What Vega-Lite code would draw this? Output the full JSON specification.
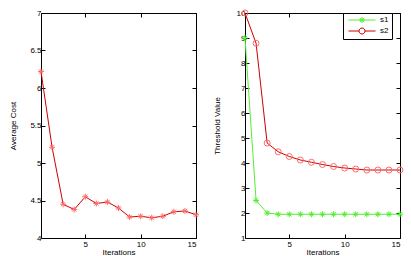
{
  "$schema": "https://vega.github.io/schema/vega-lite/v6.json",
  "padding": {"left": 8, "top": 7, "right": 12, "bottom": 0},
  "spacing": 10,
  "background": "white",
  "config": {
    "view": {"stroke": "#000", "strokeWidth": 1},
    "axis": {
      "grid": false,
      "domain": false,
      "labelFont": "Liberation Sans",
      "labelFontSize": 8,
      "labelColor": "#000",
      "titleFont": "Liberation Sans",
      "titleFontSize": 8,
      "titleFontWeight": "normal",
      "titleColor": "#000",
      "tickColor": "#000",
      "tickSize": -4,
      "labelPadding": 4
    }
  },
  "datasets": {
    "cost": [
      {"iter": 1, "value": 6.22}, {"iter": 2, "value": 5.21}, {"iter": 3, "value": 4.45},
      {"iter": 4, "value": 4.38}, {"iter": 5, "value": 4.55}, {"iter": 6, "value": 4.46},
      {"iter": 7, "value": 4.48}, {"iter": 8, "value": 4.40}, {"iter": 9, "value": 4.28},
      {"iter": 10, "value": 4.29}, {"iter": 11, "value": 4.27}, {"iter": 12, "value": 4.29},
      {"iter": 13, "value": 4.35}, {"iter": 14, "value": 4.36}, {"iter": 15, "value": 4.31}
    ],
    "thr": [
      {"series": "s1", "iter": 1, "value": 9.0}, {"series": "s1", "iter": 2, "value": 2.5},
      {"series": "s1", "iter": 3, "value": 2.0}, {"series": "s1", "iter": 4, "value": 1.95},
      {"series": "s1", "iter": 5, "value": 1.95}, {"series": "s1", "iter": 6, "value": 1.95},
      {"series": "s1", "iter": 7, "value": 1.95}, {"series": "s1", "iter": 8, "value": 1.95},
      {"series": "s1", "iter": 9, "value": 1.95}, {"series": "s1", "iter": 10, "value": 1.95},
      {"series": "s1", "iter": 11, "value": 1.95}, {"series": "s1", "iter": 12, "value": 1.95},
      {"series": "s1", "iter": 13, "value": 1.95}, {"series": "s1", "iter": 14, "value": 1.95},
      {"series": "s1", "iter": 15, "value": 1.95},
      {"series": "s2", "iter": 1, "value": 10.0}, {"series": "s2", "iter": 2, "value": 8.79},
      {"series": "s2", "iter": 3, "value": 4.8}, {"series": "s2", "iter": 4, "value": 4.45},
      {"series": "s2", "iter": 5, "value": 4.26}, {"series": "s2", "iter": 6, "value": 4.12},
      {"series": "s2", "iter": 7, "value": 4.03}, {"series": "s2", "iter": 8, "value": 3.94},
      {"series": "s2", "iter": 9, "value": 3.86}, {"series": "s2", "iter": 10, "value": 3.8},
      {"series": "s2", "iter": 11, "value": 3.76}, {"series": "s2", "iter": 12, "value": 3.72},
      {"series": "s2", "iter": 13, "value": 3.72}, {"series": "s2", "iter": 14, "value": 3.72},
      {"series": "s2", "iter": 15, "value": 3.72}
    ]
  },
  "hconcat": [
    {
      "width": 155,
      "height": 225,
      "data": {"name": "cost"},
      "resolve": {"axis": {"x": "independent", "y": "independent"}},
      "layer": [
        {
          "mark": {"type": "line", "color": "#cc0000", "strokeWidth": 1},
          "encoding": {
            "x": {"field": "iter", "type": "quantitative", "scale": {"domain": [1, 15], "nice": false},
                  "axis": {"values": [5, 10, 15], "title": "Iterations", "labelPadding": 6, "titlePadding": 0, "minExtent": 10, "maxExtent": 10}},
            "y": {"field": "value", "type": "quantitative", "scale": {"domain": [4, 7], "nice": false, "zero": false},
                  "axis": {"values": [4, 4.5, 5, 5.5, 6, 6.5, 7], "format": "~g", "title": "Average Cost", "titlePadding": 4, "minExtent": 20, "maxExtent": 20}}
          }
        },
        {
          "mark": {"type": "point", "shape": "M-1,0L1,0M0,-1L0,1M-0.7,-0.7L0.7,0.7M-0.7,0.7L0.7,-0.7", "filled": false, "stroke": "#ff6a6a", "strokeWidth": 1, "size": 36, "opacity": 1},
          "encoding": {
            "x": {"field": "iter", "type": "quantitative",
                  "axis": {"orient": "top", "values": [5, 10, 15], "labels": false, "title": null, "minExtent": 0, "maxExtent": 0}},
            "y": {"field": "value", "type": "quantitative",
                  "axis": {"orient": "right", "values": [4, 4.5, 5, 5.5, 6, 6.5, 7], "labels": false, "title": null, "minExtent": 0, "maxExtent": 0}}
          }
        }
      ]
    },
    {
      "width": 155,
      "height": 225,
      "data": {"name": "thr"},
      "resolve": {"axis": {"x": "independent", "y": "independent"}},
      "layer": [
        {
          "mark": {"type": "line", "strokeWidth": 1},
          "encoding": {
            "x": {"field": "iter", "type": "quantitative", "scale": {"domain": [1, 15], "nice": false},
                  "axis": {"values": [5, 10, 15], "title": "Iterations", "labelPadding": 6, "titlePadding": 0, "minExtent": 10, "maxExtent": 10}},
            "y": {"field": "value", "type": "quantitative", "scale": {"domain": [1, 10], "nice": false, "zero": false},
                  "axis": {"values": [1, 2, 3, 4, 5, 6, 7, 8, 9, 10], "title": "Threshold Value", "titlePadding": 4, "minExtent": 20, "maxExtent": 20}},
            "color": {"field": "series", "type": "nominal",
                      "scale": {"domain": ["s1", "s2"], "range": ["#55ee33", "#cc0000"]},
                      "legend": {
                        "title": null, "orient": "none", "legendX": 302, "legendY": 0,
                        "strokeColor": "#000", "fillColor": "#fff", "padding": 3,
                        "labelFont": "Liberation Sans", "labelFontSize": 8, "labelColor": "#000",
                        "symbolSize": 36, "symbolStrokeWidth": 1, "rowPadding": 1,
                        "symbolOffset": 12, "labelOffset": 14,
                        "encode": {"symbols": {"update": {"shape": [
                          {"test": "datum.value === 's1'", "value": "M-4.5,0L4.5,0M0,-1L0,1M-1,0L1,0M-0.7,-0.7L0.7,0.7M-0.7,0.7L0.7,-0.7"},
                          {"value": "M-4.5,0L-1,0M1,0L4.5,0M-1,0A1,1 0 1 1 1,0A1,1 0 1 1 -1,0"}
                        ]}}}
                      }}
          }
        },
        {
          "transform": [{"filter": "datum.series === 's1'"}],
          "mark": {"type": "point", "shape": "M-1,0L1,0M0,-1L0,1M-0.7,-0.7L0.7,0.7M-0.7,0.7L0.7,-0.7", "filled": false, "stroke": "#55ee33", "strokeWidth": 1, "size": 36, "opacity": 1},
          "encoding": {
            "x": {"field": "iter", "type": "quantitative",
                  "axis": {"orient": "top", "values": [5, 10, 15], "labels": false, "title": null, "minExtent": 0, "maxExtent": 0}},
            "y": {"field": "value", "type": "quantitative",
                  "axis": {"orient": "right", "values": [1, 2, 3, 4, 5, 6, 7, 8, 9, 10], "labels": false, "title": null, "minExtent": 0, "maxExtent": 0}}
          }
        },
        {
          "transform": [{"filter": "datum.series === 's2'"}],
          "mark": {"type": "point", "shape": "circle", "filled": false, "stroke": "#ff6a6a", "strokeWidth": 1, "size": 36, "opacity": 1},
          "encoding": {
            "x": {"field": "iter", "type": "quantitative", "axis": null},
            "y": {"field": "value", "type": "quantitative", "axis": null}
          }
        }
      ]
    }
  ]
}
